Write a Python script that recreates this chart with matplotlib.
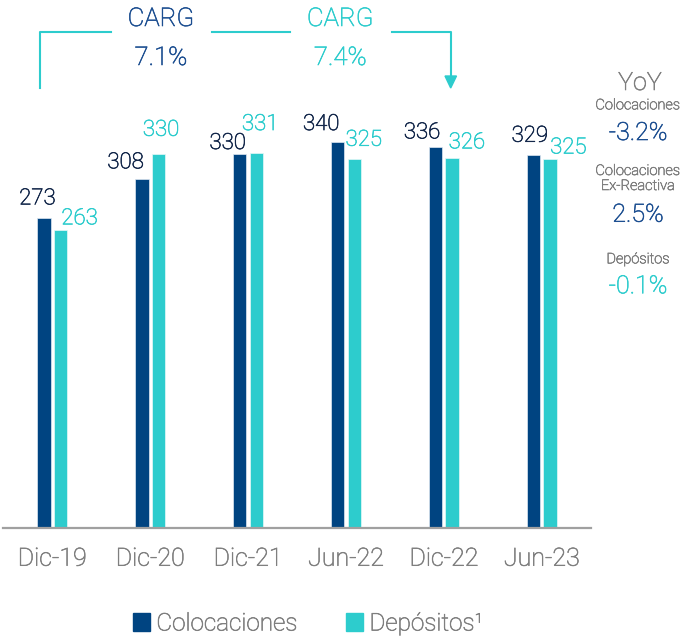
import matplotlib
matplotlib.use("Agg")
import matplotlib.pyplot as plt
from matplotlib.lines import Line2D
from matplotlib.patches import Polygon, Patch
from matplotlib.transforms import blended_transform_factory
import matplotlib.patheffects as pe
import numpy as np

plt.rcParams['font.family'] = ['Roboto', 'DejaVu Sans']

categories = ["Dic-19", "Dic-20", "Dic-21", "Jun-22", "Dic-22", "Jun-23"]
colocaciones = [273, 308, 330, 340, 336, 329]
depositos = [263, 330, 331, 325, 326, 325]
series_names = ["Colocaciones", "Depósitos¹"]
carg_values = ["7.1%", "7.4%"]
yoy_labels = ["Colocaciones", "Colocaciones\nEx-Reactiva", "Depósitos"]
yoy_values = ["-3.2%", "2.5%", "-0.1%"]

# styling
DARK = "#004481"
AQUA = "#2DCCCD"
NAVY_TXT = "#14284b"
BLUE_TXT = "#1d4f91"
GRAY = "#7f7f7f"
W, H = 682, 638
FW = "light"
SW = 0.45  # extra stroke width to thicken the light face


def thick(color):
    return [pe.withStroke(linewidth=SW, foreground=color)]


# per-label pixel offsets (manual placement in the original)
dark_dx = [-6.6, -16.2, -12, -16.4, -13.5, -3.7]
dark_dy = [14, 10.4, 4.8, 12.4, 8.6, 13.2]
light_dx = [19.1, 2.8, 4, 9.6, 14.8, 18.4]
light_dy = [5.4, 18, 22.6, 13.7, 10, 6]

fig = plt.figure(figsize=(W / 100, H / 100), dpi=100)
ax = fig.add_axes([3.3 / W, (H - 527.7) / H, (590.7 - 3.3) / W, 527.7 / H])
ax.set_xlim(-0.5, len(categories) - 0.5)
ax.set_ylim(0, 527.7 / 1.133)

x = np.arange(len(categories))
bw = 0.136
off = 0.084
ax.bar(x - off, colocaciones, bw, color=DARK, edgecolor="#dfe8f2", linewidth=0.5, label=series_names[0])
ax.bar(x + off, depositos, bw, color=AQUA, edgecolor="#e6f8f8", linewidth=0.5, label=series_names[1])

for i in range(len(categories)):
    ax.annotate(str(colocaciones[i]), (x[i] - off, colocaciones[i]),
                xytext=(dark_dx[i], dark_dy[i]), textcoords="offset pixels",
                ha="center", va="baseline", fontsize=16, color=NAVY_TXT, fontweight=FW,
                path_effects=thick(NAVY_TXT))
    ax.annotate(str(depositos[i]), (x[i] + off, depositos[i]),
                xytext=(light_dx[i], light_dy[i]), textcoords="offset pixels",
                ha="center", va="baseline", fontsize=16, color=AQUA, fontweight=FW,
                path_effects=thick(AQUA))

for s in ["top", "right", "left"]:
    ax.spines[s].set_visible(False)
ax.spines["bottom"].set_color("#a0a0a0")
ax.spines["bottom"].set_linewidth(1.6)
ax.set_yticks([])
ax.set_xticks([])

tr = blended_transform_factory(ax.transData, fig.transFigure)
for i, c in enumerate(categories):
    ax.text(x[i], 1 - 565.7 / H, c, transform=tr, ha="center", va="baseline",
            fontsize=18, color=GRAY, fontweight=FW, path_effects=thick(GRAY))

# legend
handles = [Patch(color=DARK), Patch(color=AQUA)]
leg = fig.legend(handles, series_names, loc="center", bbox_to_anchor=(308.5 / W, 1 - 624 / H),
                 ncol=2, frameon=False, handlelength=0.7, handleheight=0.7,
                 handletextpad=0.25, columnspacing=2.0, prop={"weight": FW, "size": 17.5})
for t in leg.get_texts():
    t.set_color(GRAY)
    t.set_path_effects(thick(GRAY))


def fx(px):
    return px / W


def fy(py):
    return 1 - py / H


# CARG bracket
lw = 1.5
segs = [
    ([40, 40, 111], [88.3, 32.3, 32.3]),
    ([212, 290], [32.3, 32.3]),
    ([392.3, 450.7, 450.7], [32.3, 32.3, 77]),
]
for xs, ys in segs:
    fig.add_artist(Line2D([fx(v) for v in xs], [fy(v) for v in ys], color=AQUA, lw=lw))
fig.add_artist(Polygon([[fx(445), fy(76)], [fx(456.5), fy(76)], [fx(450.7), fy(88)]],
                       closed=True, color=AQUA, transform=fig.transFigure))


def ftext(px, py, s, size, color, ha="center"):
    fig.text(fx(px), fy(py), s, ha=ha, va="baseline", fontsize=size, color=color,
             fontweight=FW, path_effects=thick(color))


ftext(161, 26, "CARG", 18.5, BLUE_TXT)
ftext(161, 65, carg_values[0], 18.5, BLUE_TXT)
ftext(340.3, 26, "CARG", 18.5, AQUA)
ftext(340.3, 65, carg_values[1], 18.5, AQUA)

# YoY panel
cx = 638
ftext(640, 90, "YoY", 18, GRAY)
ftext(cx, 109.3, yoy_labels[0], 10.5, GRAY)
ftext(cx, 140, yoy_values[0], 18, BLUE_TXT)
ftext(cx, 175, yoy_labels[1].split("\n")[0], 10.5, GRAY)
ftext(cx, 190, yoy_labels[1].split("\n")[1], 10.5, GRAY)
ftext(cx, 221.7, yoy_values[1], 18, BLUE_TXT)
ftext(cx, 263.3, yoy_labels[2], 10.5, GRAY)
ftext(cx, 293.3, yoy_values[2], 18, AQUA)

fig.savefig("out.png", dpi=100)
